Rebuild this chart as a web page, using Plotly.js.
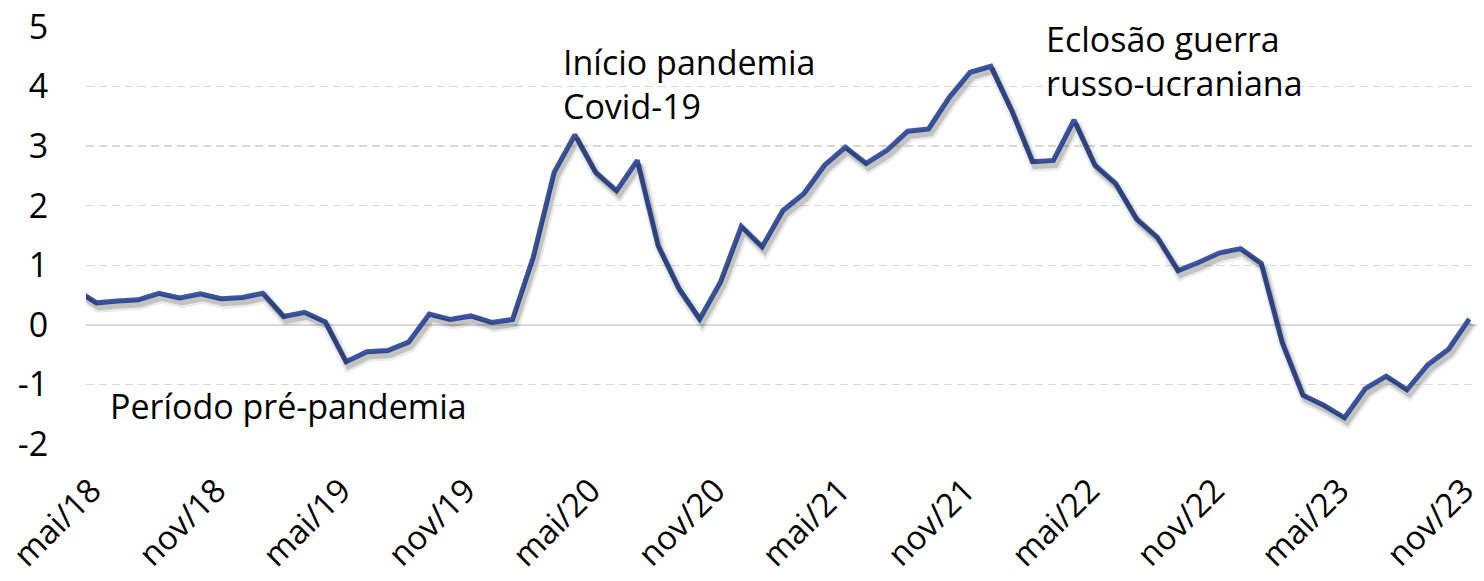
<!DOCTYPE html>
<html>
<head>
<meta charset="utf-8">
<script src="https://cdn.plot.ly/plotly-3.0.1.min.js"></script>
<style>
  html, body { margin: 0; padding: 0; background: #fff; }
  #chart { width: 1484px; height: 581px; }
</style>
</head>
<body>
<div id="chart"></div>
<script>
// Months (abr/18 precedes the first labelled month and is partly clipped by the axis range)
const months = [
  'abr/18','mai/18','jun/18','jul/18','ago/18','set/18','out/18','nov/18','dez/18',
  'jan/19','fev/19','mar/19','abr/19','mai/19','jun/19','jul/19','ago/19','set/19','out/19','nov/19','dez/19',
  'jan/20','fev/20','mar/20','abr/20','mai/20','jun/20','jul/20','ago/20','set/20','out/20','nov/20','dez/20',
  'jan/21','fev/21','mar/21','abr/21','mai/21','jun/21','jul/21','ago/21','set/21','out/21','nov/21','dez/21',
  'jan/22','fev/22','mar/22','abr/22','mai/22','jun/22','jul/22','ago/22','set/22','out/22','nov/22','dez/22',
  'jan/23','fev/23','mar/23','abr/23','mai/23','jun/23','jul/23','ago/23','set/23','out/23','nov/23'
];
const values = [
  0.59, 0.37, 0.40, 0.42, 0.53, 0.45, 0.52, 0.44, 0.46,
  0.53, 0.14, 0.21, 0.05, -0.62, -0.45, -0.43, -0.29, 0.18, 0.09, 0.15, 0.04,
  0.09, 1.14, 2.56, 3.19, 2.56, 2.25, 2.76, 1.33, 0.61, 0.10, 0.72, 1.65,
  1.31, 1.92, 2.20, 2.68, 2.98, 2.71, 2.93, 3.25, 3.29, 3.82, 4.24, 4.34,
  3.60, 2.74, 2.76, 3.44, 2.68, 2.37, 1.78, 1.47, 0.91, 1.05, 1.21, 1.28,
  1.03, -0.29, -1.18, -1.35, -1.56, -1.07, -0.86, -1.09, -0.67, -0.41, 0.10
];
const tickLabels = ['mai/18','nov/18','mai/19','nov/19','mai/20','nov/20','mai/21','nov/21','mai/22','nov/22','mai/23','nov/23'];
const yTicks = [-2, -1, 0, 1, 2, 3, 4, 5];
const noteTexts = ['Período pré-pandemia', 'Início pandemia<br>Covid-19', 'Eclosão guerra<br>russo-ucraniana'];
const noteMonths = ['mai/18', 'mar/20', 'fev/22'];

// placement of the notes (layout, not data)
const notePlace = [
  {dx: 0.53, y: -0.95, yshift: 0},
  {dx: 0.31, y: 4.83, yshift: 0},
  {dx: 0.53, y: 5, yshift: 13}
];

const xIdx = months.map((m, i) => i - 1);
const idxOf = m => months.indexOf(m) - 1;

const FONT = 'Open Sans, Noto Sans, sans-serif';
const XR = [-0.505, 66.37];
const YR = [-2, 5];
// drop shadow: same series drawn on hidden overlay axes whose ranges are offset by a few pixels
const SHX = 2.5 / 20.8, SHY = 4.5 / 59.6;

const shadowWide = {
  x: xIdx, y: values, type: 'scatter', mode: 'lines', xaxis: 'x2', yaxis: 'y2',
  line: {color: 'rgba(0,0,0,0.08)', width: 11},
  hoverinfo: 'skip', showlegend: false
};
const shadowCore = {
  x: xIdx, y: values, type: 'scatter', mode: 'lines', xaxis: 'x2', yaxis: 'y2',
  line: {color: 'rgba(0,0,0,0.17)', width: 6},
  hoverinfo: 'skip', showlegend: false
};
const trace = {
  x: xIdx, y: values, type: 'scatter', mode: 'lines',
  line: {color: '#3c57a5', width: 5, shape: 'linear'},
  hoverinfo: 'skip', showlegend: false
};

const layout = {
  width: 1484, height: 581,
  margin: {l: 86, r: 7, t: 27, b: 137},
  paper_bgcolor: '#ffffff', plot_bgcolor: 'rgba(0,0,0,0)',
  showlegend: false,
  xaxis: {
    range: XR,
    tickmode: 'array',
    tickvals: tickLabels.map(idxOf),
    ticktext: tickLabels,
    tickangle: -45,
    ticklabeloverflow: 'allow',
    ticklabelshift: -5,
    ticks: 'outside', ticklen: 13, tickcolor: 'rgba(0,0,0,0)',
    showgrid: false, zeroline: false, showline: false,
    tickfont: {family: FONT, size: 33, color: '#000'}
  },
  yaxis: {
    range: YR,
    tickmode: 'array', tickvals: yTicks, ticktext: yTicks.map(String),
    showgrid: true, gridcolor: '#d9d9d9', gridwidth: 1.5, griddash: '8px,5px',
    zeroline: true, zerolinecolor: '#d9d9d9', zerolinewidth: 1.5,
    showline: false, ticks: 'outside', ticklen: 30, tickcolor: 'rgba(0,0,0,0)',
    tickfont: {family: FONT, size: 34, color: '#000'}
  },
  xaxis2: {overlaying: 'x', range: [XR[0] - SHX, XR[1] - SHX], visible: false, showgrid: false, zeroline: false},
  yaxis2: {overlaying: 'y', range: [YR[0] + SHY, YR[1] + SHY], visible: false, showgrid: false, zeroline: false},
  annotations: noteTexts.map((t, i) => ({
    x: idxOf(noteMonths[i]) + notePlace[i].dx, y: notePlace[i].y, yshift: notePlace[i].yshift,
    xref: 'x', yref: 'y',
    text: t, showarrow: false, xanchor: 'left', yanchor: 'top', align: 'left',
    font: {family: FONT, size: 34, color: '#000'}
  }))
};

Plotly.newPlot('chart', [shadowWide, shadowCore, trace], layout, {staticPlot: true, displayModeBar: false});
</script>
</body>
</html>
